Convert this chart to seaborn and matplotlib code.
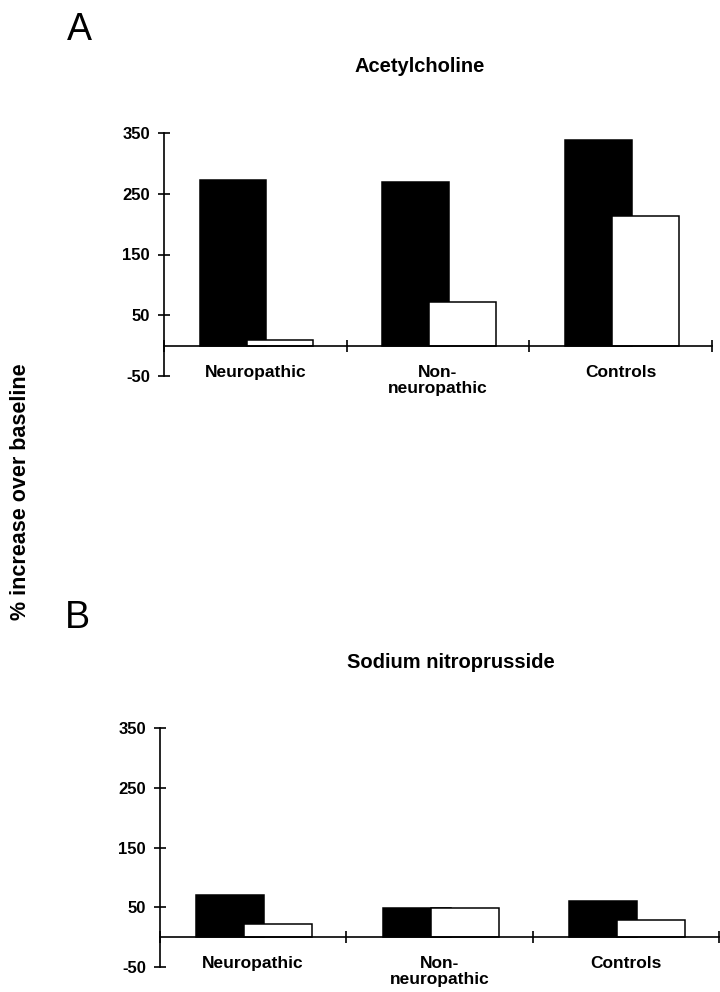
import pandas as pd
import seaborn as sns
import matplotlib.pyplot as plt

# data
groups = ['Neuropathic', 'Non-\nneuropathic', 'Controls']
ach_filled = [272, 269, 338]
ach_open = [10, 72, 214]
snp_filled = [71, 48, 61]
snp_open = [22, 48, 29]
yticks = [-50, 50, 150, 250, 350]

sns.set_style('white')
plt.rcParams['font.family'] = ['Liberation Sans', 'DejaVu Sans']
for k in ['text.color', 'axes.labelcolor', 'xtick.color', 'ytick.color']:
    plt.rcParams[k] = 'black'

BAR_W = 0.365
SHIFT_FILLED = -0.122
SHIFT_OPEN = 0.135


def make_df(vals, offset):
    return pd.DataFrame({'pos': [i + offset for i in range(len(groups))],
                         'value': vals})


def draw_panel(ax, filled, opn):
    # filled bars first, the open bars sit on top of them
    sns.barplot(data=make_df(filled, SHIFT_FILLED), x='pos', y='value',
                native_scale=True, width=BAR_W, color='black',
                edgecolor='black', linewidth=1.1, errorbar=None, ax=ax)
    sns.barplot(data=make_df(opn, SHIFT_OPEN), x='pos', y='value',
                native_scale=True, width=BAR_W, color='white',
                edgecolor='black', linewidth=1.1, errorbar=None, ax=ax)
    for p in ax.patches:
        p.set_facecolor(p.get_facecolor()[:3] + (1,))

    ax.set_xlim(-0.5, 2.5)
    ax.set_ylim(-50, 350)
    ax.set_yticks(yticks)
    ax.set_yticklabels([str(t) for t in yticks], fontsize=12, fontweight='bold')
    ax.set_xticks([-0.5, 0.5, 1.5, 2.5])
    ax.set_xticklabels([])
    ax.set_xlabel('')
    ax.set_ylabel('')
    ax.tick_params(axis='both', direction='inout', length=8, width=1.2,
                   bottom=True, left=True)
    ax.tick_params(axis='y', pad=6)
    for s in ['top', 'right']:
        ax.spines[s].set_visible(False)
    ax.spines['bottom'].set_position(('data', 0))
    for s in ['left', 'bottom']:
        ax.spines[s].set_color('black')
        ax.spines[s].set_linewidth(1.2)
    for i, g in enumerate(groups):
        ax.text(i, -32, g, ha='center', va='top', fontsize=12.5,
                fontweight='bold', linespacing=1.1)


fig = plt.figure(figsize=(7.2, 9.92), dpi=100)
ax_a = fig.add_axes([164 / 720, 1 - 376 / 992, 548 / 720, 243 / 992])
ax_b = fig.add_axes([160 / 720, 1 - 967 / 992, 559 / 720, 239 / 992])

draw_panel(ax_a, ach_filled, ach_open)
draw_panel(ax_b, snp_filled, snp_open)

fig.text(79 / 720, 1 - 30 / 992, 'A', fontsize=27, ha='center', va='center')
fig.text(77 / 720, 1 - 618 / 992, 'B', fontsize=27, ha='center', va='center')
fig.text(420 / 720, 1 - 66 / 992, 'Acetylcholine', fontsize=14.5,
         fontweight='bold', ha='center', va='center')
fig.text(451 / 720, 1 - 662 / 992, 'Sodium nitroprusside', fontsize=14.5,
         fontweight='bold', ha='center', va='center')
fig.text(21 / 720, 1 - 492 / 992, '% increase over baseline', fontsize=15.5,
         fontweight='bold', rotation=90, ha='center', va='center')

fig.savefig('out.png', dpi=100)
